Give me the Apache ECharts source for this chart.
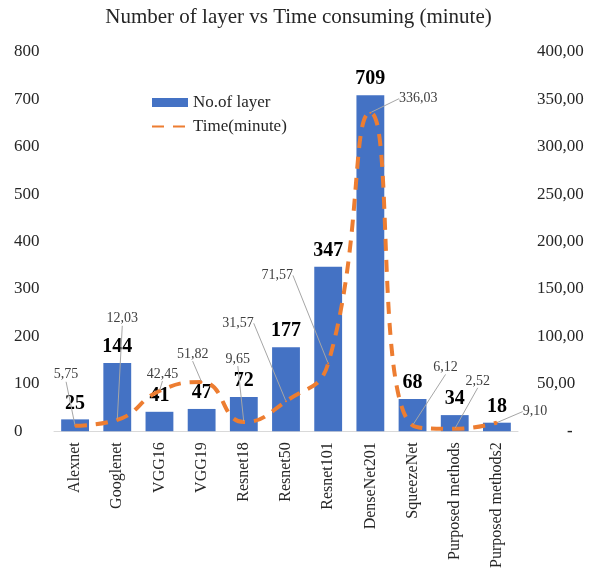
<!DOCTYPE html>
<html>
<head>
<meta charset="utf-8">
<script src="https://cdn.jsdelivr.net/npm/echarts@6/dist/echarts.min.js"></script>
<style>
  html, body { margin: 0; padding: 0; background: #fff; }
  #main { width: 597px; height: 571px; }
</style>
</head>
<body>
<div id="main"></div>
<script>
var models = ['Alexnet', 'Googlenet', 'VGG16', 'VGG19', 'Resnet18', 'Resnet50',
  'Resnet101', 'DenseNet201', 'SqueezeNet', 'Purposed methods', 'Purposed methods2'];
var layers = [25, 144, 41, 47, 72, 177, 347, 709, 68, 34, 18];
var minutes = [5.75, 12.03, 42.45, 51.82, 9.65, 31.57, 71.57, 336.03, 6.12, 2.52, 9.10];

// where each time label sits, relative to its default spot
var labelShift = [[-9, -38], [5, -88], [3, -4], [-9, -15], [-6, -50], [-48, -65],
  [-51, -75], [48, -1], [33, -45], [23, -35], [38, 2]];

var serif = '"Liberation Serif", "Times New Roman", serif';

function comma(v) {
  return v.toFixed(2).replace('.', ',');
}

var myChart = echarts.init(document.getElementById('main'));

var option = {
  backgroundColor: '#fff',
  textStyle: { fontFamily: serif },
  title: {
    text: 'Number of layer vs Time consuming (minute)',
    left: 'center',
    top: 2,
    textStyle: { fontFamily: serif, fontSize: 21, fontWeight: 'normal', color: '#262626' }
  },
  legend: {
    orient: 'vertical',
    left: 146,
    top: 89,
    itemGap: 7,
    itemWidth: 36,
    itemHeight: 9,
    textStyle: { fontFamily: serif, fontSize: 17, color: '#262626' },
    data: [
      { name: 'No.of layer', icon: 'rect' },
      { name: 'Time(minute)', itemStyle: { opacity: 0 } }
    ]
  },
  grid: { left: 54, right: 79, top: 52, bottom: 138 },
  xAxis: {
    type: 'category',
    data: models,
    axisLine: { lineStyle: { color: '#d9d9d9' } },
    axisTick: { show: false },
    axisLabel: {
      rotate: 90,
      margin: 11,
      interval: 0,
      fontFamily: serif,
      fontSize: 16,
      color: '#262626'
    }
  },
  yAxis: [
    {
      type: 'value',
      min: 0,
      max: 800,
      interval: 100,
      splitLine: { show: false },
      axisLabel: {
        align: 'left',
        margin: 40,
        fontFamily: serif,
        fontSize: 17,
        color: '#262626'
      }
    },
    {
      type: 'value',
      min: 0,
      max: 400,
      interval: 50,
      splitLine: { show: false },
      axisLabel: {
        align: 'left',
        margin: 19,
        fontFamily: serif,
        fontSize: 17,
        color: '#262626',
        formatter: function (v) {
          return v === 0 ? '{d|-}' : comma(v);
        },
        rich: { d: { fontFamily: serif, fontSize: 17, fontWeight: 'bold', color: '#262626', padding: [0, 0, 0, 30] } }
      }
    }
  ],
  series: [
    {
      name: 'No.of layer',
      type: 'bar',
      barWidth: '66%',
      itemStyle: { color: '#4472C4' },
      label: {
        show: true,
        position: 'top',
        distance: 6,
        fontFamily: serif,
        fontSize: 20,
        fontWeight: 'bold',
        color: '#000'
      },
      data: layers
    },
    {
      name: 'Time(minute)',
      type: 'line',
      yAxisIndex: 1,
      smooth: true,
      symbol: 'circle',
      symbolSize: 2,
      itemStyle: { color: '#ED7D31' },
      lineStyle: { color: '#ED7D31', width: 4, type: [12, 9] },
      label: {
        show: true,
        position: 'top',
        fontFamily: serif,
        fontSize: 14,
        color: '#404040',
        formatter: function (p) { return comma(p.value); }
      },
      labelLine: { show: true, lineStyle: { color: '#a6a6a6', width: 1 } },
      labelLayout: function (p) {
        var s = labelShift[p.dataIndex];
        return { dx: s[0], dy: s[1] };
      },
      data: minutes
    }
  ]
};

myChart.setOption(option);
</script>
</body>
</html>
